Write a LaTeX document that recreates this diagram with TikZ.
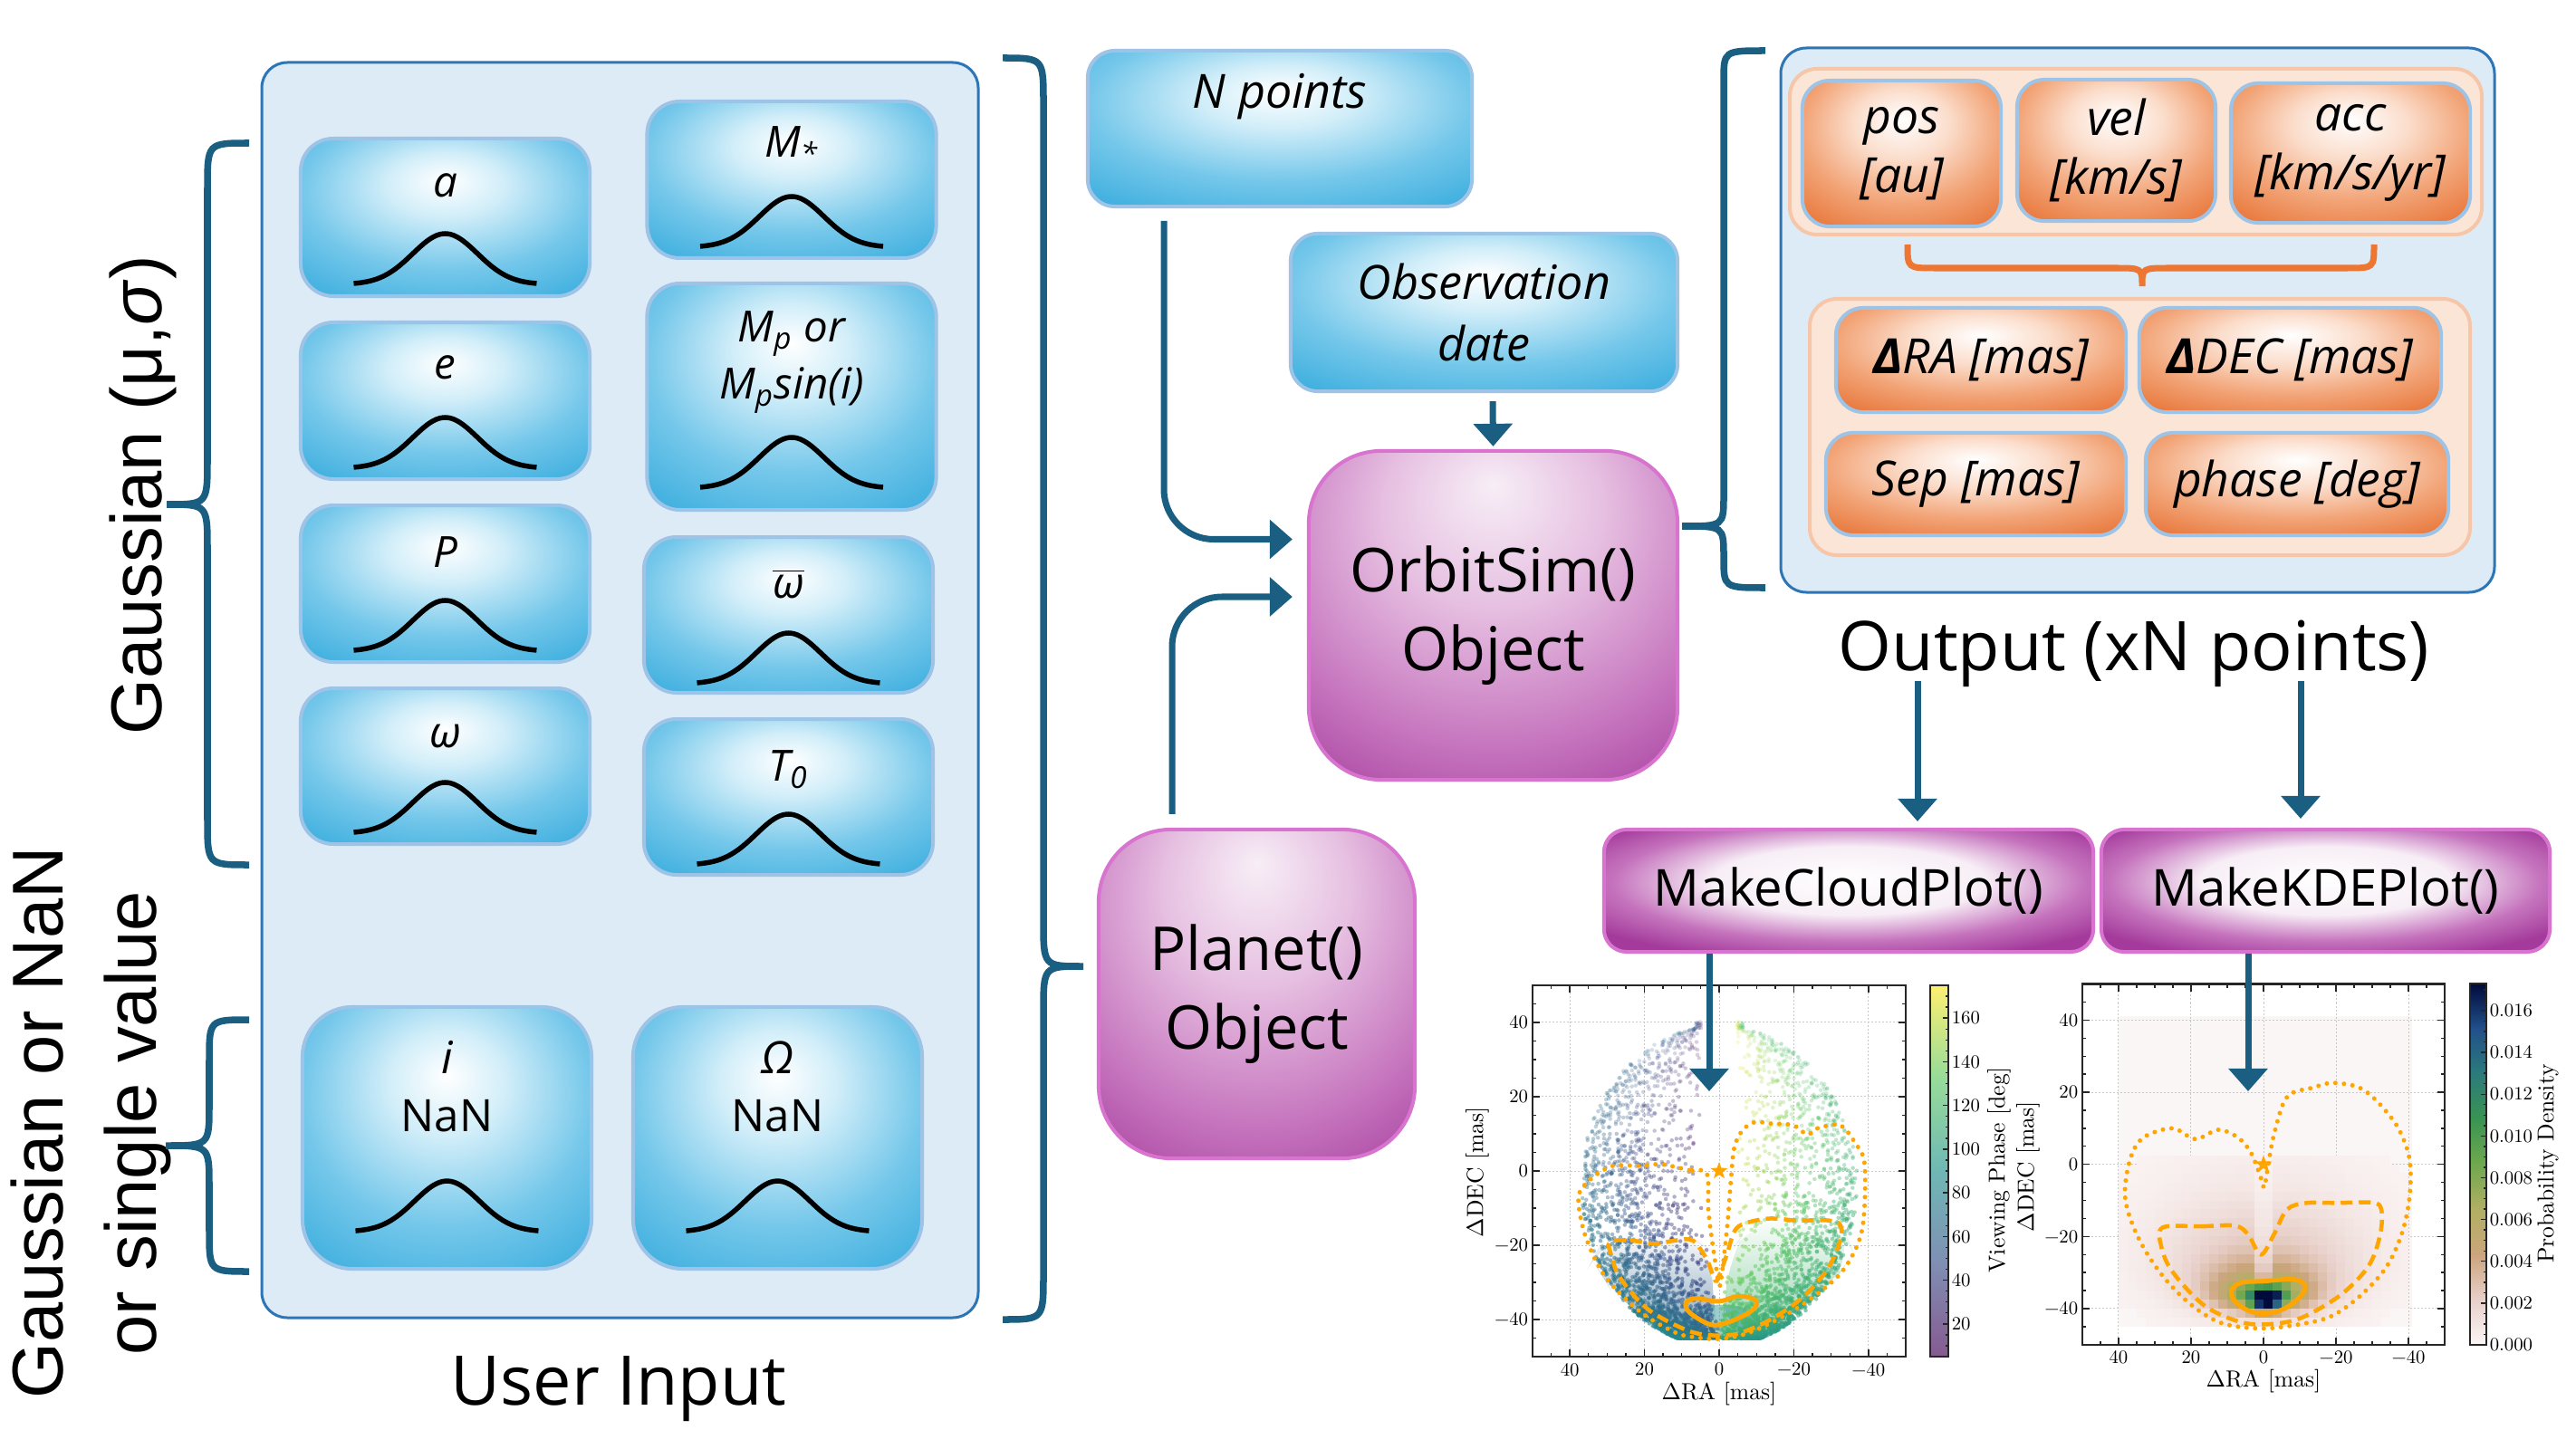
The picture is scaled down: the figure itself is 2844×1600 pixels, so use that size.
\documentclass[tikz,border=0pt]{standalone}
\usepackage{fontspec}
\setmainfont{Open Sans}
\newfontfamily\arialfont{Liberation Sans}
\newfontfamily\plotfont{Latin Modern Roman}
\usetikzlibrary{calc,arrows.meta,shapes.geometric,fadings}

\definecolor{panelfill}{HTML}{DDEBF7}
\definecolor{paneledge}{HTML}{2E75B6}
\definecolor{boxedge}{HTML}{9DC3E6}
\definecolor{bluesoft}{HTML}{D2EEF9}
\definecolor{bluemid}{HTML}{74C7EA}
\definecolor{bluedeep}{HTML}{22A2D9}
\definecolor{peachfill}{HTML}{FBE5D6}
\definecolor{peachedge}{HTML}{F7C6A8}
\definecolor{orangesoft}{HTML}{FBDDCB}
\definecolor{orangemid}{HTML}{F2A477}
\definecolor{orangedeep}{HTML}{E8763A}
\definecolor{magtop}{HTML}{F7EEF6}
\definecolor{magsoft}{HTML}{E6BFE1}
\definecolor{magmid}{HTML}{C573BD}
\definecolor{magdeep}{HTML}{A43B9C}
\definecolor{magedge}{HTML}{D873CF}
\definecolor{flowcol}{HTML}{1A5F82}
\definecolor{obrace}{HTML}{EC7632}
\definecolor{contour}{HTML}{FFA500}
\definecolor{framecol}{HTML}{262626}
\definecolor{gridcol}{HTML}{C8C8C8}
\definecolor{vir0}{HTML}{440154}
\definecolor{vir1}{HTML}{3B528B}
\definecolor{vir2}{HTML}{21918C}
\definecolor{vir3}{HTML}{5EC962}
\definecolor{vir4}{HTML}{FDE725}
\colorlet{vb0}{vir0!65!white}
\colorlet{vb1}{vir1!65!white}
\colorlet{vb2}{vir2!65!white}
\colorlet{vb3}{vir3!65!white}
\colorlet{vb4}{vir4!65!white}
\definecolor{k0}{HTML}{FBF6F6}
\definecolor{k1}{HTML}{E8D0CA}
\definecolor{k2}{HTML}{CBA57D}
\definecolor{k3}{HTML}{B1AF64}
\definecolor{k4}{HTML}{6FA84F}
\definecolor{k5}{HTML}{3A9452}
\definecolor{k6}{HTML}{2C7B7B}
\definecolor{k7}{HTML}{22508A}
\definecolor{k8}{HTML}{000A3A}

\pgfdeclareradialshading{blueglow}{\pgfpoint{0bp}{12bp}}{color(0bp)=(white); color(10bp)=(bluesoft); color(25bp)=(bluemid); color(45bp)=(bluedeep); color(75bp)=(bluedeep)}
\pgfdeclareradialshading{orangeglow}{\pgfpoint{0bp}{12bp}}{color(0bp)=(white); color(12bp)=(orangesoft); color(25bp)=(orangemid); color(38bp)=(orangedeep); color(75bp)=(orangedeep)}
\pgfdeclareradialshading{magglow}{\pgfpoint{0bp}{20bp}}{color(0bp)=(magtop); color(15bp)=(magsoft); color(32bp)=(magmid); color(45bp)=(magdeep); color(75bp)=(magdeep)}
\pgfdeclareradialshading{magbar}{\pgfpoint{0bp}{5bp}}{color(0bp)=(white); color(14bp)=(magtop); color(24bp)=(magmid); color(32bp)=(magdeep); color(75bp)=(magdeep)}
\pgfdeclareverticalshading{viribar}{100bp}{color(0bp)=(vb0); color(25bp)=(vb0); color(37.5bp)=(vb1); color(50bp)=(vb2); color(62.5bp)=(vb3); color(75bp)=(vb4); color(100bp)=(vb4)}
\pgfdeclareverticalshading{kdebar}{100bp}{color(0bp)=(k0); color(25bp)=(k0); color(31.25bp)=(k1); color(37.5bp)=(k2); color(43.75bp)=(k3); color(50bp)=(k4); color(56.25bp)=(k5); color(62.5bp)=(k6); color(68.75bp)=(k7); color(75bp)=(k8); color(100bp)=(k8)}

\def\vbrace[#1](#2,#3,#4)(#5,#6,#7)#8{\draw[#1] (#2,#5) .. controls (#3,#5) .. (#3,#5+#8) -- (#3,#6-#8) .. controls (#3,#6) .. (#4,#6) .. controls (#3,#6) .. (#3,#6+#8) -- (#3,#7-#8) .. controls (#3,#7) .. (#2,#7);}
\def\bell#1{\begin{scope}[shift={#1}]\draw[bellline] plot[domain=-1:1, samples=41, smooth] ({101*\x},{-56*exp(-4*\x*\x)});\end{scope}}

\tikzset{
  panel/.style={draw=paneledge, fill=panelfill, line width=0.03cm, rounded corners=0.28cm},
  peach/.style={draw=peachedge, fill=peachfill, line width=0.04cm, rounded corners=0.3cm},
  parbox/.style={shade, shading=blueglow, draw=boxedge, line width=0.04cm, rounded corners=0.36cm, minimum width=3.19cm, inner sep=0pt},
  nanbox/.style={parbox, rounded corners=0.55cm, minimum height=2.89cm},
  inbox/.style={shade, shading=blueglow, draw=boxedge, line width=0.04cm, rounded corners=0.3cm, inner sep=0pt, font=\fontsize{14.8}{19.5}\selectfont\itshape, align=center},
  outbox/.style={shade, shading=orangeglow, draw=boxedge, line width=0.04cm, rounded corners=0.3cm, inner sep=0pt, font=\fontsize{15.2}{18.3}\selectfont\itshape, align=center},
  objbox/.style={shade, shading=magglow, draw=magedge, line width=0.04cm, rounded corners=0.8cm, minimum height=3.63cm, inner sep=0pt, font=\fontsize{19}{24.6}\selectfont, align=center},
  plotbox/.style={shade, shading=magbar, draw=magedge, line width=0.04cm, rounded corners=0.25cm, minimum height=1.35cm, inner sep=0pt, font=\fontsize{16}{19}\selectfont},
  plbl/.style={font=\fontsize{13.5}{17.9}\selectfont\itshape, inner sep=0pt, align=center},
  bigtxt/.style={font=\fontsize{21.5}{26}\selectfont, inner sep=0pt},
  sidetxt/.style={font=\arialfont\fontsize{22.6}{29.3}\selectfont, inner sep=0pt, align=center},
  bellline/.style={line width=0.055cm, black},
  brace/.style={draw=flowcol, line width=0.075cm},
  flow/.style={draw=flowcol, line width=0.07cm, -{Triangle[length=0.25cm, width=0.42cm]}},
  gridln/.style={gridcol, line width=0.01cm, dash pattern=on 0.02cm off 0.02cm},
  tickln/.style={framecol, line width=0.014cm},
  frame/.style={draw=framecol, line width=0.025cm},
  tcklbl/.style={font=\plotfont\fontsize{10}{12}\selectfont, inner sep=0.04cm, scale=0.59},
  axlbl/.style={font=\plotfont\fontsize{10}{12}\selectfont, inner sep=0pt, scale=0.73},
  cdot/.style={contour, line width=0.05cm, line cap=round, dash pattern=on 0pt off 0.095cm},
  cdash/.style={contour, line width=0.045cm, dash pattern=on 0.13cm off 0.07cm},
  csolid/.style={contour, line width=0.05cm},
  starmark/.style={star, star points=5, star point ratio=2.4, fill=contour, inner sep=0pt, minimum size=0.2cm}
}

\begin{document}
\begin{tikzpicture}[x=0.01cm, y=-0.01cm, declare function={gs(\a,\b)=exp(max(-15,-0.5*(\a)*(\a)-0.5*(\b)*(\b)));}]
\useasboundingbox (0,0) rectangle (2844,1600);

%%%%% user input %%%%%
\draw[panel] (289,69) rectangle (1080,1455);
\foreach \nm/\cx/\cy/\hh/\lab/\lo/\bo in {
  pa/491.5/240/174/a/54/15,
  pe/491.5/442.5/173/e/52/14,
  pp/491.5/644.5/173/P/54/14,
  pw/491.5/846/172/ω/55/14,
  pm/874/198.5/173/{M\textsubscript{*}}/51/14,
  pmp/874/438/250/{M\textsubscript{p} or\\M\textsubscript{p}sin(i)}/89/26,
  pvw/870.5/679/172/{$\overline{\hbox{ω}}$}/54/12,
  pt/870.5/880/172/{T\textsubscript{0}}/58/13}{
  \node[parbox, minimum height=\hh*0.01cm] (\nm) at (\cx,\cy) {};
  \node[plbl] (\nm-l) at ($(\nm.north)+(0,\lo)$) {\lab};
  \bell{($(\nm.south)+(0,-\bo)$)}
}
\node[nanbox] (pi) at (493.5,1256.5) {};
\node[plbl, font=\fontsize{14}{18.2}\selectfont\itshape] (pi-l) at ($(pi.north)+(0,90)$) {i\\{\upshape NaN}};
\bell{($(pi.south)+(0,-43)$)}
\node[nanbox] (pO) at (858.5,1256.5) {};
\node[plbl, font=\fontsize{14}{18.2}\selectfont\itshape] (pO-l) at ($(pO.north)+(0,90)$) {Ω\\{\upshape NaN}};
\bell{($(pO.south)+(0,-43)$)}

\node[bigtxt, anchor=base] (uin) at (683,1551) {User Input};
\node[sidetxt, rotate=90, anchor=base] (gauss) at (179,547) {Gaussian (μ,\textit{σ})};
\node[sidetxt, rotate=90] (gnan) at (100,1240) {Gaussian or NaN\\or single value};

\vbrace[brace](275,229,184)(158,557,955){50}
\vbrace[brace](275,231,183)(1126,1265,1404){45}
\vbrace[brace](1107,1152,1196)(64,1067,1457){50}

%%%%% objects %%%%%
\node[inbox, minimum width=4.24cm, minimum height=1.72cm] (npts) at (1413,142) {};
\node[plbl, font=\fontsize{14.8}{18}\selectfont\itshape] (npts-l) at ($(npts.north)+(0,53)$) {N points};
\node[inbox, minimum width=4.27cm, minimum height=1.74cm] (obs) at (1638.5,345) {Observation\\date};
\node[objbox, minimum width=4.07cm] (orbit) at (1648.5,679.5) {OrbitSim()\\Object};
\node[objbox, minimum width=3.49cm] (planet) at (1387.5,1097.5) {Planet()\\Object};

\coordinate (nfoot) at (1285,244);
\draw[flow, rounded corners=0.55cm] (nfoot) |- ($(orbit.west)+(-16,-84)$);
\draw[flow, rounded corners=0.55cm] ($(planet.north)+(-93.5,-15)$) |- ($(orbit.west)+(-16,-20.5)$);
\draw[flow] ($(obs.south)+(9.5,9)$) -- ($(orbit.north)+(0,-3)$);

%%%%% output %%%%%
\draw[panel] (1966,53) rectangle (2754,654);
\draw[peach] (1976,76) rectangle (2740,259);
\draw[peach] (1998,330) rectangle (2727,613);
\node[outbox, minimum width=2.19cm, minimum height=1.61cm] (pos) at (2099.5,169.5) {pos\\[0pt][au]};
\node[outbox, minimum width=2.19cm, minimum height=1.56cm] (vel) at (2336.5,166) {vel\\[0pt][km/s]};
\node[outbox, minimum width=2.64cm, minimum height=1.54cm] (acc) at (2595,169) {acc\\[0pt][km/s/yr]};
\draw[draw=obrace, line width=0.07cm] (2106,270) .. controls (2106,296) .. (2136,296) -- (2335,296) .. controls (2365,296) .. (2365,316) .. controls (2365,296) .. (2395,296) -- (2591,296) .. controls (2621,296) .. (2621,270);
\node[outbox, minimum width=3.20cm, minimum height=1.15cm] (dra) at (2187,397.5) {{\bfseries Δ}RA [mas]};
\node[outbox, minimum width=3.33cm, minimum height=1.15cm] (ddec) at (2528.5,397.5) {{\bfseries Δ}DEC [mas]};
\node[outbox, minimum width=3.31cm, minimum height=1.13cm] (sep) at (2181.5,534.5) {Sep [mas]};
\node[outbox, minimum width=3.34cm, minimum height=1.13cm] (phs) at (2536,534.5) {phase [deg]};
\vbrace[brace](1949,1903,1857)(56,581,649){34}
\node[bigtxt, anchor=base] (outlbl) at (2356,740) {Output (xN points)};

\node[plotbox, minimum width=5.40cm] (cloud) at (2041,983.5) {MakeCloudPlot()};
\node[plotbox, minimum width=4.95cm] (kde) at (2567.5,983.5) {MakeKDEPlot()};
\coordinate (oa) at (2117,752);
\coordinate (ob) at (2540,752);
\draw[flow] (oa) -- ($(oa |- cloud.north)+(0,-7)$);
\draw[flow] (ob) -- ($(ob |- kde.north)+(0,-10)$);

%%%%% cloud plot %%%%%
\begin{scope}[shift={(1898,1293)}, x=-0.0412cm, y=0.041cm]
  \foreach \t in {-40,-20,...,40}{\draw[gridln] (\t,-50) -- (\t,50); \draw[gridln] (-50,\t) -- (50,\t);}
  % dense lower part of the cloud
  \fill[vir1!70!vir2, opacity=0.6, path fading=north, rounded corners=0.4cm] (1.2,-37) -- (2.5,-21) -- (8,-17) -- (20,-16) -- (31,-18) -- (34,-24) -- (29,-32) -- (20,-39.5) -- (10,-43.5) -- (1,-44.5) -- cycle;
  \fill[vir3!65!vir2, opacity=0.6, path fading=north, rounded corners=0.4cm] (-1.2,-37) -- (-3,-22) -- (-8,-14) -- (-20,-12) -- (-33,-14) -- (-36,-22) -- (-30,-31) -- (-19,-39.5) -- (-9,-43.5) -- (-1,-44.5) -- cycle;
  \fill[vir2, opacity=0.45] (0,-40) ellipse[x radius=11, y radius=4];
  \pgfmathsetseed{2024}
  \foreach \k in {1,...,4500}{%
    \pgfmathsetmacro\dv{-45+85*(rnd+0.001)^2.5}%
    \pgfmathsetmacro\qv{(\dv+4)/43}%
    \pgfmathsetmacro\wv{37*sqrt(max(0.03,1-(\qv)*(\qv)))}%
    \pgfmathsetmacro\gv{(\dv>-36)*min(4.5,0.4+0.12*(\dv+36))}%
    \pgfmathsetmacro\fv{(rnd+0.001)^0.6}%
    \pgfmathsetmacro\sv{rnd<0.5 ? 1 : -1}%
    \pgfmathsetmacro\rv{(\sv)*(\gv+max(0,\wv-\gv)*\fv)}%
    \pgfmathsetmacro\ph{90-(\sv)*85*(1-0.7*\fv)*((\dv+45.1)/85.2)^0.3}%
    \pgfmathsetmacro\tv{min(0.999,max(0,(\ph-5)/170))}%
    \pgfmathtruncatemacro\oi{round(12.4-9*(\dv+45)/85)}%
    \pgfmathsetmacro\op{\oi/20}%
    \pgfmathtruncatemacro\sg{\tv*4}%
    \pgfmathtruncatemacro\fr{100*(\tv*4-\sg)}%
    \ifcase\sg\relax \colorlet{pc}{vir1!\fr!vir0}\or \colorlet{pc}{vir2!\fr!vir1}\or \colorlet{pc}{vir3!\fr!vir2}\or \colorlet{pc}{vir4!\fr!vir3}\fi
    \fill[pc, opacity=\op] (\rv,\dv) circle[radius=0.55];
  }
  \draw[cdot] plot[smooth cycle, tension=0.55] coordinates {(3.3,-0.7) (8,0.2) (15.4,1.8) (21,1.4) (28.4,1.4) (33,-1.1) (37.2,-5.3) (37.5,-10.3) (35.4,-18.7) (30.3,-28.8) (21,-38) (11.7,-43.5) (6.1,-44.8) (0,-45.2) (-6.9,-43.9) (-16.1,-39.7) (-25.4,-33.8) (-32.9,-27.1) (-37.5,-18.7) (-38.9,-10.3) (-38.9,2.3) (-36.6,7.3) (-32.4,12.3) (-26.4,11.5) (-23.6,9.8) (-19.9,12.3) (-13.4,12.8) (-9.7,13.2) (-6.4,11.1) (-4.1,6.5) (-3.2,-1.9) (-2.2,-14.5) (-0.8,-27.1) (0,-30.5) (1.9,-18.7) (2.9,-10.3)};
  \draw[cdash] plot[smooth cycle, tension=0.55] coordinates {(29.3,-19.1) (23.8,-18.7) (17.3,-19.6) (11.7,-18.7) (7.1,-18.7) (3.3,-23.8) (1,-29.6) (-0.4,-27.1) (-2.2,-22.1) (-4.1,-16.2) (-6.9,-14.1) (-13.4,-12.8) (-20.8,-13.3) (-29.1,-13.3) (-32.4,-14.5) (-32.4,-18.7) (-29.1,-26.3) (-22.6,-33.8) (-14.3,-39.7) (-5.9,-43.5) (0,-44.3) (8,-43.1) (19.1,-37.2) (26.5,-28.8) (28.8,-22.9)};
  \draw[csolid] plot[smooth cycle, tension=0.6] coordinates {(8.9,-35.5) (6.1,-34.3) (0,-35.1) (-5,-33.7) (-9.7,-34.7) (-9.2,-37.2) (-5,-39.7) (0,-41.4) (3.3,-41) (8,-38)};
  \node[starmark] (star1) at (0,0) {};
  \foreach \t in {-45,-40,...,45}{\draw[tickln] (\t,-50) -- (\t,-49); \draw[tickln] (\t,50) -- (\t,49); \draw[tickln] (-50,\t) -- (-49,\t); \draw[tickln] (50,\t) -- (49,\t);}
  \foreach \t/\s in {40/40,20/20,0/0,-20/−20,-40/−40}{%
    \draw[tickln] (\t,-50) -- (\t,-48); \draw[tickln] (\t,50) -- (\t,48); \draw[tickln] (-50,\t) -- (-48,\t); \draw[tickln] (50,\t) -- (48,\t);
    \node[tcklbl, anchor=north] (cx\t) at (\t,-51) {\s};
    \node[tcklbl, anchor=east] (cy\t) at (50.5,\t) {\s};}
  \draw[frame] (-50,-50) rectangle (50,50);
\end{scope}
\shade[shading=viribar] (2131,1088) rectangle (2151,1498);
\foreach \p in {10,15,...,170}{\draw[tickln] (2151,{1498-(\p-5)*2.4118}) -- ++(-3,0);}
\foreach \p in {20,40,...,160}{\draw[tickln] (2151,{1498-(\p-5)*2.4118}) -- ++(-6,0);
  \node[tcklbl, anchor=west] (vb\p) at (2152,{1498-(\p-5)*2.4118}) {\p};}
\draw[frame] (2131,1088) rectangle (2151,1498);
\node[axlbl] (xl1) at (1898,1539) {$\Delta$RA [mas]};
\node[axlbl, rotate=90] (yl1) at (1631,1294) {$\Delta$DEC [mas]};
\node[axlbl, rotate=90] (cl1) at (2207,1292) {Viewing Phase [deg]};

%%%%% kde plot %%%%%
\begin{scope}[shift={(2499,1285.7)}, x=-0.04cm, y=0.0398cm]
  \fill[k0] (-41,-45) rectangle (40,41);
  \foreach \t in {-40,-20,...,40}{\draw[gridln] (\t,-50) -- (\t,50); \draw[gridln] (-50,\t) -- (50,\t);}
  \foreach \ra in {-40,-37.5,...,37.5}{
    \foreach \de in {-45,-42.5,...,0}{%
      \pgfmathsetmacro\rc{\ra+1.25}%
      \pgfmathsetmacro\dc{\de+1.25}%
      \pgfmathsetmacro\tv{min(0.999,(0.95*gs((\rc+1)/2.6,(\dc+37.5)/1.7)+0.35*gs(\rc/8,(\dc+36.5)/3)+0.2*gs(\rc/12,(\dc+33)/5)+0.1*gs(\rc/19,(\dc+26)/10)+0.045*gs(\rc/26,(\dc+16)/18))*(\dc>-32 ? 1-0.7*gs(\rc/1.5,0) : 1))}%
      \ifdim\tv pt>0.012pt
        \pgfmathtruncatemacro\sg{\tv*8}%
        \pgfmathtruncatemacro\fr{100*(\tv*8-\sg)}%
        \ifcase\sg\relax \colorlet{kc}{k1!\fr!k0}\or \colorlet{kc}{k2!\fr!k1}\or \colorlet{kc}{k3!\fr!k2}\or \colorlet{kc}{k4!\fr!k3}\or \colorlet{kc}{k5!\fr!k4}\or \colorlet{kc}{k6!\fr!k5}\or \colorlet{kc}{k7!\fr!k6}\or \colorlet{kc}{k8!\fr!k7}\fi
        \fill[kc] (\ra,\de) rectangle ++(2.55,2.55);
      \fi
    }
  }
  \draw[cdot] plot[smooth cycle, tension=0.55] coordinates {(-0.2,-6.4) (0.7,-3.8) (3.4,3.1) (7,7.4) (12.5,9.6) (18.8,7) (25.1,10) (33.2,7.4) (36.8,1.4) (38.2,-9) (35,-19.4) (28.7,-29.8) (20.6,-38.4) (11.6,-44) (0,-45.5) (-11.9,-44) (-19.1,-41.9) (-26.4,-36.7) (-33.6,-28.9) (-38.1,-19.4) (-40.3,-9) (-40.3,1.4) (-37.2,10) (-31.8,17) (-26.4,21.3) (-19.1,22.6) (-13.7,21.3) (-6.5,18.7) (-2.9,8.3) (-1,-2)};
  \draw[cdash] plot[smooth cycle, tension=0.55] coordinates {(27.8,-17.5) (17,-17.2) (7.9,-17) (4.3,-19.4) (0.7,-25) (-2.9,-19.4) (-6.5,-12.5) (-11.9,-10.7) (-20,-10.7) (-30,-10.6) (-32.5,-12.5) (-32.2,-19.4) (-29.1,-28) (-21.8,-35.8) (-11.9,-41.9) (-4.7,-44) (5.2,-44) (16.1,-39.3) (25.1,-29.8) (28.2,-22.8)};
  \draw[csolid] plot[smooth cycle, tension=0.6] coordinates {(8.8,-34.9) (6.1,-32.8) (0,-32.4) (-8.3,-31.9) (-11.5,-33.7) (-10.1,-36.7) (-5.6,-40.1) (0,-41.4) (4.3,-40.5) (7.9,-38)};
  \node[starmark] (star2) at (0,0) {};
  \foreach \t in {-45,-40,...,45}{\draw[tickln] (\t,-50) -- (\t,-49); \draw[tickln] (\t,50) -- (\t,49); \draw[tickln] (-50,\t) -- (-49,\t); \draw[tickln] (50,\t) -- (49,\t);}
  \foreach \t/\s in {40/40,20/20,0/0,-20/−20,-40/−40}{%
    \draw[tickln] (\t,-50) -- (\t,-48); \draw[tickln] (\t,50) -- (\t,48); \draw[tickln] (-50,\t) -- (-48,\t); \draw[tickln] (50,\t) -- (48,\t);
    \node[tcklbl, anchor=north] (kx\t) at (\t,-51) {\s};
    \node[tcklbl, anchor=east] (ky\t) at (50.5,\t) {\s};}
  \draw[frame] (-50,-50) rectangle (50,50);
\end{scope}
\shade[shading=kdebar] (2727,1086) rectangle (2745,1485);
\foreach \m in {1,...,34}{\draw[tickln] (2745,{1485-\m*11.532}) -- ++(-3,0);}
\foreach \v/\s in {0/0.000,1/0.002,2/0.004,3/0.006,4/0.008,5/0.010,6/0.012,7/0.014,8/0.016}{\draw[tickln] (2745,{1485-\v*46.13}) -- ++(-6,0);
  \node[tcklbl, anchor=west] (kb\v) at (2746,{1485-\v*46.13}) {\s};}
\draw[frame] (2727,1086) rectangle (2745,1485);
\node[axlbl] (xl2) at (2499,1525) {$\Delta$RA [mas]};
\node[axlbl, rotate=90] (yl2) at (2239,1288) {$\Delta$DEC [mas]};
\node[axlbl, rotate=90] (cl2) at (2813,1285) {Probability Density};

\coordinate (ca) at (1887,1205);
\coordinate (ka) at (2482,1205);
\draw[flow] (ca |- cloud.south) -- (ca);
\draw[flow] (ka |- kde.south) -- (ka);

\end{tikzpicture}
\end{document}
